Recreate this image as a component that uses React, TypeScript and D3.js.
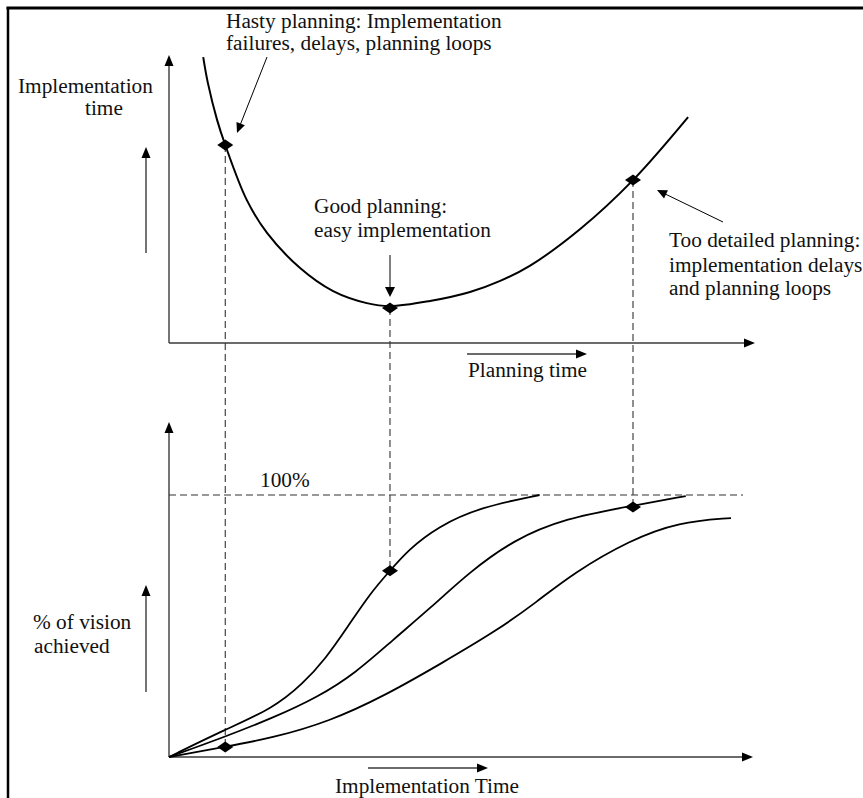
import React from "react";
import * as d3 from "d3";

// ---- data (arbitrary 0..100 units) ----
// top chart: implementation time vs planning time
const planningX = [5.9, 6.7, 8.3, 9.7, 13.4, 16.9, 22.6, 28.3, 34.1, 38.1, 45, 51.9, 57.1, 62.2, 70.9, 80, 89.5];
const implTime = [95.3, 86.7, 74.3, 66, 47.7, 36.7, 25, 17.3, 13.3, 12.3, 14, 17, 20.7, 25.7, 38, 54.3, 75.3];

// lower chart: % of vision achieved vs implementation time
const curveGoodX = [0, 9.5, 17.9, 23.1, 27.0, 30.9, 34.7, 38.1, 41.2, 46.4, 53.6, 63.9];
const curveGoodY = [0, 10.3, 18.5, 28.0, 37.5, 50.0, 62.5, 71.1, 79.0, 88.0, 95.3, 100];
const curveDetailX = [0, 9.5, 17.9, 25.7, 32.2, 38.6, 45.1, 51.6, 59.3, 68.4, 79.8, 89.1];
const curveDetailY = [0, 7.6, 14.9, 22.9, 32.1, 44.7, 56.9, 70.2, 82.8, 91.2, 95.8, 99.6];
const curveHastyX = [0, 9.5, 17.9, 27.6, 37.3, 47.1, 56.7, 63.3, 69.7, 79.5, 87.9, 96.9];
const curveHastyY = [0, 3.8, 7.3, 13.5, 23.5, 35.9, 48.5, 59.0, 70.2, 82.8, 89.7, 91.2];

// marker points: planning x, top y, lower y
const markerX = [9.7, 38.1, 80];
const markerTopY = [66, 11.7, 54.3];
const markerLowY = [3.8, 71.1, 95.4];

const FONT = "'Liberation Serif', 'Tinos', 'DejaVu Serif', serif";

export default function App() {
  const W = 863, H = 798;
  const x = d3.scaleLinear().domain([0, 100]).range([169, 749]);
  const yTop = d3.scaleLinear().domain([0, 100]).range([343, 43]);
  const yLow = d3.scaleLinear().domain([0, 100]).range([757, 495]);

  const topLine = d3.line<number>()
    .x((_, i) => x(planningX[i]))
    .y((d) => yTop(d))
    .curve(d3.curveCatmullRom.alpha(0.5));

  const mkLow = (xs: number[]) =>
    d3.line<number>()
      .x((_, i) => x(xs[i]))
      .y((d) => yLow(d))
      .curve(d3.curveBasis);

  const diamond = (cx: number, cy: number) =>
    `M${cx - 8},${cy} L${cx},${cy - 5.5} L${cx + 8},${cy} L${cx},${cy + 5.5} Z`;

  const axisColor = "#3a3a3a";

  const arrowHead = (x1: number, y1: number, x2: number, y2: number, len = 11, half = 4.5) => {
    const a = Math.atan2(y2 - y1, x2 - x1);
    const bx = x2 - len * Math.cos(a), by = y2 - len * Math.sin(a);
    const px = -Math.sin(a) * half, py = Math.cos(a) * half;
    return `M${x2},${y2} L${bx + px},${by + py} L${bx - px},${by - py} Z`;
  };

  const Arrow = ({ x1, y1, x2, y2, w = 1.3, color = "#000", len = 11, half = 4.5 }: any) => {
    const a = Math.atan2(y2 - y1, x2 - x1);
    return (
      <g>
        <line x1={x1} y1={y1} x2={x2 - (len - 2) * Math.cos(a)} y2={y2 - (len - 2) * Math.sin(a)} stroke={color} strokeWidth={w} />
        <path d={arrowHead(x1, y1, x2, y2, len, half)} fill="#000" />
      </g>
    );
  };

  const txtStyle = { fontFamily: FONT, fontSize: "21.3px", fill: "#111" } as any;
  const T = ({ x: tx, y: ty, children }: any) => (
    <text x={tx} y={ty} style={txtStyle}>{children}</text>
  );

  return (
    <svg width={W} height={H} style={{ position: "absolute", left: 0, top: 0, background: "#fff" }}>
      <rect x={0} y={0} width={W} height={H} fill="#fff" />
      {/* border */}
      <line x1={6.5} y1={8} x2={W} y2={8} stroke="#000" strokeWidth={3} />
      <line x1={8} y1={7} x2={8} y2={H} stroke="#000" strokeWidth={2.5} />

      {/* top chart axes */}
      <Arrow x1={169} y1={343} x2={169} y2={55} w={1.4} color={axisColor} />
      <Arrow x1={169} y1={343} x2={755} y2={343} w={1.4} color={axisColor} />
      <Arrow x1={146} y1={253} x2={146} y2={147} w={1.4} color={axisColor} />
      <Arrow x1={467} y1={354} x2={587} y2={354} w={1.4} color={axisColor} />

      {/* lower chart axes */}
      <Arrow x1={169} y1={757} x2={169} y2={422} w={1.4} color={axisColor} />
      <Arrow x1={169} y1={757} x2={753} y2={757} w={1.4} color={axisColor} />
      <Arrow x1={146} y1={692} x2={146} y2={585} w={1.4} color={axisColor} />
      <Arrow x1={368} y1={768} x2={488} y2={768} w={1.4} color={axisColor} />

      {/* 100% line */}
      <line x1={x(0)} y1={yLow(100)} x2={743} y2={yLow(100)} stroke="#333" strokeWidth={1.1} strokeDasharray="7,4" />

      {/* dashed verticals */}
      {markerX.map((mx, i) => (
        <line key={i} x1={x(mx)} y1={yTop(markerTopY[i])} x2={x(mx)} y2={yLow(markerLowY[i])} stroke="#333" strokeWidth={1.1} strokeDasharray="7,4" />
      ))}

      {/* curves */}
      <path d={topLine(implTime) || ""} fill="none" stroke="#000" strokeWidth={2} />
      <path d={mkLow(curveGoodX)(curveGoodY) || ""} fill="none" stroke="#000" strokeWidth={1.8} />
      <path d={mkLow(curveDetailX)(curveDetailY) || ""} fill="none" stroke="#000" strokeWidth={1.8} />
      <path d={mkLow(curveHastyX)(curveHastyY) || ""} fill="none" stroke="#000" strokeWidth={1.8} />

      {/* markers */}
      {markerX.map((mx, i) => (
        <g key={"m" + i}>
          <path d={diamond(x(mx), yTop(markerTopY[i]))} fill="#000" />
          <path d={diamond(x(mx), yLow(markerLowY[i]))} fill="#000" />
        </g>
      ))}

      {/* annotation arrows */}
      <Arrow x1={267} y1={57} x2={237} y2={133} w={1} len={10} half={4.5} />
      <Arrow x1={390} y1={255} x2={390} y2={297} w={1} len={10} half={5} />
      <Arrow x1={723} y1={222} x2={657} y2={190} w={1} len={10} half={4.5} />

      {/* texts */}
      <T x={226} y={28}>Hasty planning: Implementation</T>
      <T x={226} y={50}>failures, delays, planning loops</T>
      <T x={18} y={93}>Implementation</T>
      <T x={85} y={115}>time</T>
      <T x={314} y={213}>Good planning:</T>
      <T x={314} y={237}>easy implementation</T>
      <T x={669} y={247}>Too detailed planning:</T>
      <T x={669} y={272}>implementation delays</T>
      <T x={669} y={295}>and planning loops</T>
      <T x={468} y={377}>Planning time</T>
      <T x={260} y={487}>100%</T>
      <T x={33} y={629}>% of vision</T>
      <T x={34} y={653}>achieved</T>
      <T x={335} y={793}>Implementation Time</T>
    </svg>
  );
}
